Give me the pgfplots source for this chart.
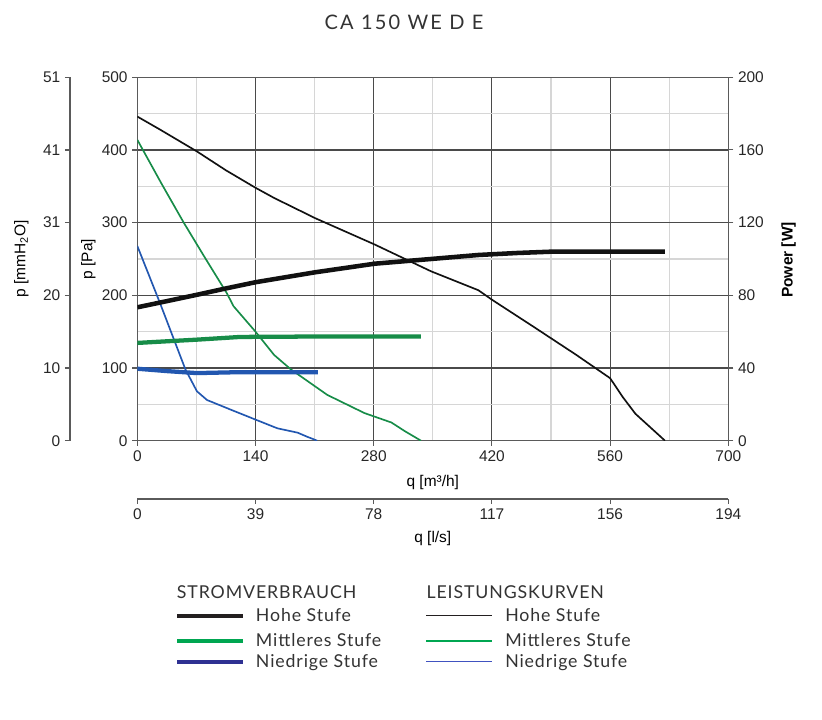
\documentclass[border=0pt]{standalone}
\usepackage{pgfplots}
\pgfplotsset{compat=1.18}
\usepackage{fontspec}
\setmainfont{Liberation Sans}
\newfontfamily\lato[LetterSpace=5]{Lato}
\newfontfamily\latotitle[LetterSpace=11]{Lato}

\definecolor{gridmaj}{HTML}{4A4A4A}
\definecolor{gridmin}{HTML}{D6D6D6}
\definecolor{axisc}{HTML}{5A5A5A}
\definecolor{curveblack}{HTML}{111111}
\definecolor{curvegreen}{HTML}{178C48}
\definecolor{curveblue}{HTML}{2257B0}
\definecolor{leggreen}{HTML}{00A651}
\definecolor{legblue}{HTML}{2E3192}
\definecolor{legbluethin}{HTML}{4052C0}
\definecolor{legblack}{HTML}{231F20}
\definecolor{txt}{HTML}{333333}

\begin{document}
\begin{tikzpicture}
\useasboundingbox (0,0) rectangle (616.5pt,540pt);
\pgfplotsset{
  every axis/.append style={
    scale only axis,
    font=\fontsize{11.6}{13}\selectfont,
    /pgf/number format/assume math mode=true,
    tick label style={text=black!85},
    axis line style={draw=axisc, line width=0.9pt, -},
    every tick/.style={draw=axisc, line width=0.8pt},
    tick align=outside,
    major tick length=3.75pt,
    minor tick length=0pt,
  }
}

% ---- main axis: performance curves (Pa vs m3/h)
\begin{axis}[
  at={(102.98pt,209.48pt)}, anchor=south west,
  width=443.25pt, height=272.55pt,
  xmin=0, xmax=700, ymin=0, ymax=500,
  xtick={0,140,280,420,560,700},
  ytick={0,100,200,300,400,500},
  minor xtick={70,210,350,490,630},
  minor ytick={50,150,250,350,450},
  grid=both,
  major grid style={draw=gridmaj, line width=0.8pt},
  minor grid style={draw=gridmin, line width=0.8pt},
  xtick pos=bottom, ytick pos=left,
]
\addplot[curveblack, line width=1.25pt] coordinates {
 (0,446) (27,428) (70.6,398) (105,372) (140,348) (162,334) (211,306)
 (281,270) (348,233) (404,207) (420,194) (469,157) (520,118)
 (560,86) (575,60) (590,37) (625,0)};
\addplot[curvegreen, line width=1.25pt] coordinates {
 (0,414) (29,353) (55,300) (80,252) (106,203) (114,185) (140,150)
 (162,118) (182,98) (225,63) (269,38) (301,25) (317,13) (336,0)};
\addplot[curveblue, line width=1.25pt] coordinates {
 (0,268) (27,189) (57,98) (70.6,68) (82.5,56) (110,43) (140,29)
 (166,17) (190,11) (200,6) (213,0)};
\end{axis}

% ---- power axis (W), right
\begin{axis}[
  at={(102.98pt,209.48pt)}, anchor=south west,
  width=443.25pt, height=272.55pt,
  xmin=0, xmax=700, ymin=0, ymax=200,
  axis x line=none, axis y line*=right,
  ytick={0,40,80,120,160,200},
  ytick pos=right,
]
\addplot[curveblack, line width=3.4pt] coordinates {
 (0,73.4) (35,76.8) (70.6,80.3) (105,83.8) (140,87.2) (211,92.7)
 (281,97.4) (348,100) (404,102.2) (450,103.3) (489,104) (625,104)};
\addplot[curvegreen, line width=3.2pt] coordinates {
 (0,53.8) (35,54.7) (70.6,55.6) (122,57.1) (200,57.3) (336,57.4)};
\addplot[curveblue, line width=3.2pt] coordinates {
 (0,39.6) (35,38.3) (70.6,37.2) (110,37.6) (214,37.6)};
\end{axis}

% ---- mmH2O axis, far left
\begin{axis}[
  at={(52.5pt,209.48pt)}, anchor=south west,
  width=10pt, height=272.55pt,
  xmin=0, xmax=1, ymin=0, ymax=500,
  axis x line=none, axis y line*=left,
  ytick={0,100,200,300,400,500},
  yticklabels={0,10,20,31,41,51},
]
\addplot[draw=none] coordinates {(0,0)};
\end{axis}

% ---- l/s axis, second bottom axis
\begin{axis}[
  at={(102.98pt,165.75pt)}, anchor=south west,
  width=443.25pt, height=5pt,
  xmin=0, xmax=700, ymin=0, ymax=1,
  axis y line=none, axis x line*=bottom,
  xtick={0,140,280,420,560,700},
  xticklabels={0,39,78,117,156,194},
]
\addplot[draw=none] coordinates {(0,0)};
\end{axis}

\begin{scope}[yshift=540pt, x=0.75pt, y=-0.75pt]
  \node[anchor=base, font=\latotitle\fontsize{15}{18}\selectfont, text=txt] at (404,29.3) {CA 150 WE D E};
  \node[rotate=90, font=\fontsize{11.6}{13}\selectfont] at (88.5,259) {p [Pa]};
  \node[rotate=90, font=\fontsize{11.6}{13}\selectfont] at (21.5,259) {p [mmH\textsubscript{2}O]};
  \node[rotate=90, font=\fontsize{11.6}{13}\selectfont\bfseries] at (788.5,260) {Power [W]};
  \node[font=\fontsize{11.6}{13}\selectfont] at (432.8,482.5) {q [m³/h]};
  \node[font=\fontsize{11.6}{13}\selectfont] at (432.8,539) {q [l/s]};

  \begin{scope}[every node/.style={anchor=base west, inner sep=0pt, font=\lato\fontsize{13.3}{16}\selectfont, text=txt}]
    \node at (176.7,599) {STROMVERBRAUCH};
    \node at (426.3,599) {LEISTUNGSKURVEN};
    \draw[legblack, line width=2.8pt] (177.3,615.7) -- (243.3,615.7);
    \draw[leggreen, line width=2.8pt] (177.3,641) -- (243.3,641);
    \draw[legblue,  line width=2.8pt] (177.3,661.7) -- (243.3,661.7);
    \node at (255.7,622) {Hohe Stufe};
    \node at (255.7,647) {Mittleres Stufe};
    \node at (255.7,668) {Niedrige Stufe};
    \draw[legblack, line width=1.1pt] (426.3,615.7) -- (491.5,615.7);
    \draw[leggreen, line width=1.1pt] (426.3,641) -- (491.5,641);
    \draw[legbluethin, line width=1.2pt] (426.3,661.7) -- (491.5,661.7);
    \node at (505,622) {Hohe Stufe};
    \node at (505,647) {Mittleres Stufe};
    \node at (505,668) {Niedrige Stufe};
  \end{scope}
\end{scope}
\end{tikzpicture}
\end{document}
